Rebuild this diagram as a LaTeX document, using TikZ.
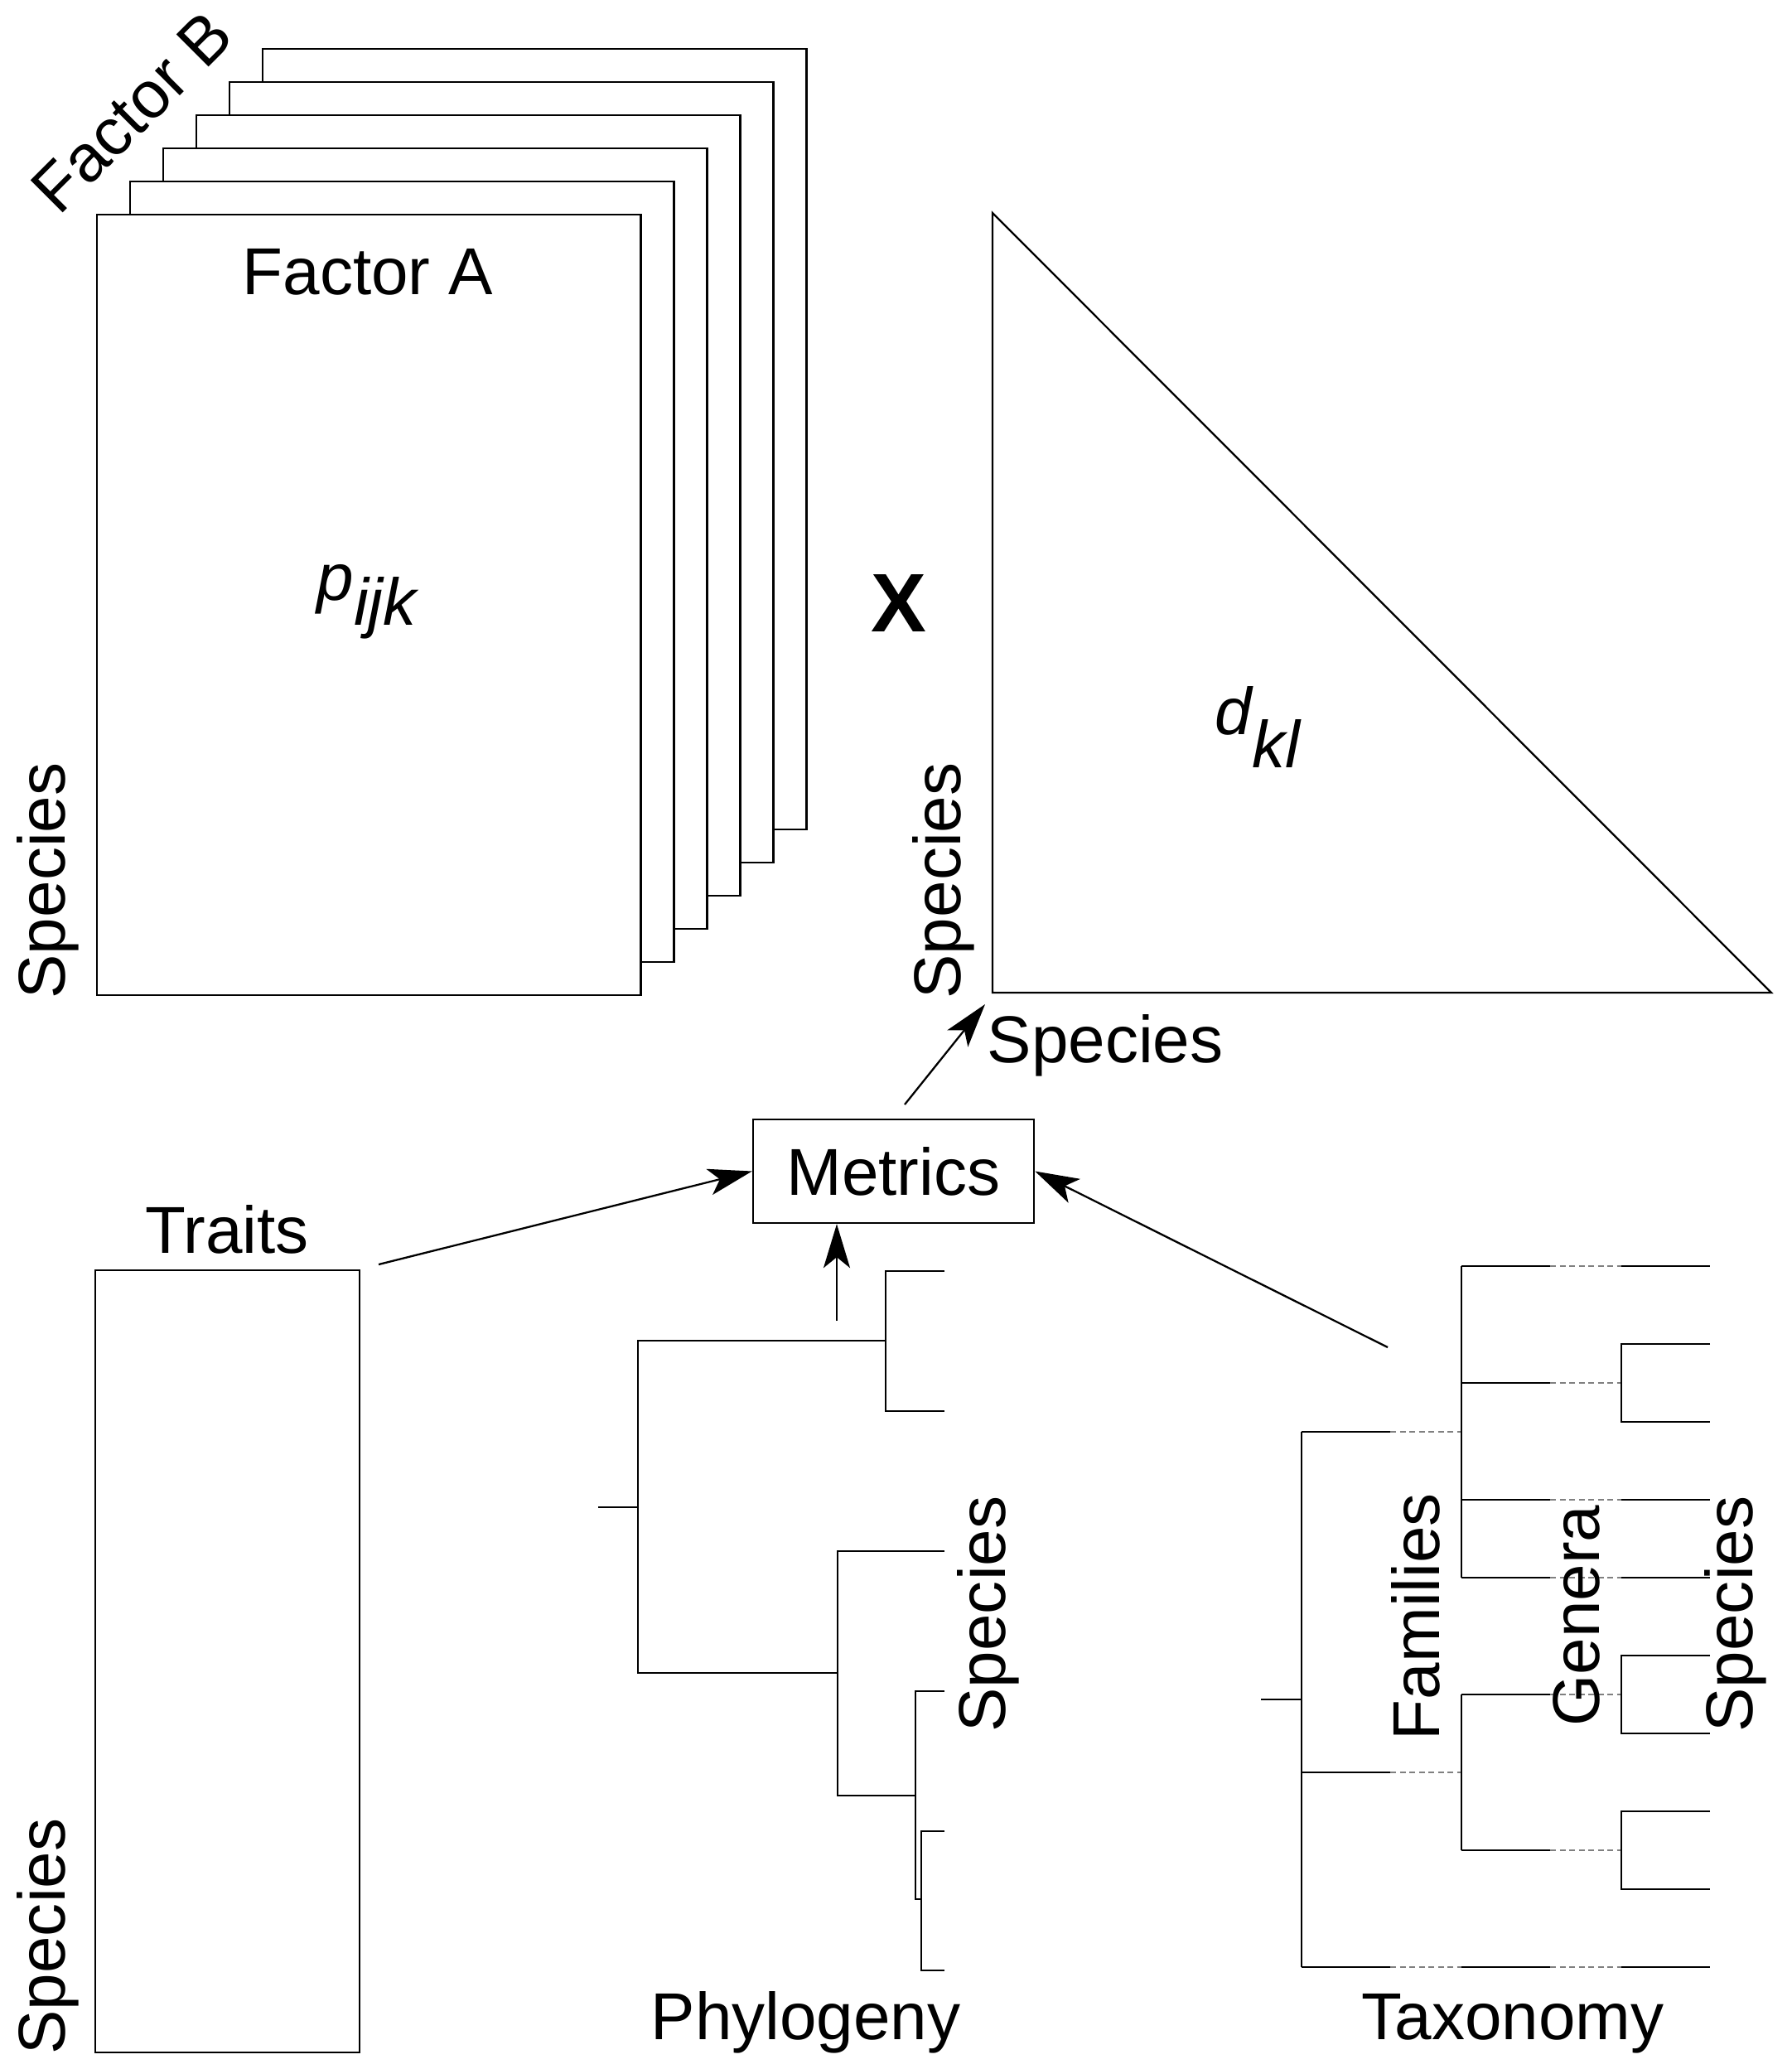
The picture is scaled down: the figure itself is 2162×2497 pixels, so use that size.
\documentclass[tikz,border=0pt]{standalone}
\usepackage{fontspec}
\setmainfont{Liberation Sans}
\usetikzlibrary{arrows.meta,calc}
\begin{document}
\begin{tikzpicture}[x=0.01cm,y=-0.01cm,
  ln/.style={line width=0.65pt, line join=miter},
  dsh/.style={line width=0.45pt, draw=gray, dash pattern=on 0.07cm off 0.045cm},
  lbl/.style={inner sep=0pt, font=\fontsize{22.76}{27}\selectfont},
  arr/.style={ln, -{Stealth[length=0.53cm,width=0.32cm,inset=0.13cm]}},
  sheet/.style={draw, ln, fill=white, inner sep=0pt, anchor=north west, minimum width=6.56cm, minimum height=9.41cm}
]
\useasboundingbox (0,0) rectangle (2162,2497);

% stacked sheets (Factor B)
\foreach \k in {5,4,3,2,1} {
  \node[sheet] (sheet\k) at ({116+40*\k},{258-40*\k}) {};
}
\node[sheet] (pmat) at (116,258) {};
\node[lbl, anchor=base] (factorA) at (444,355) {Factor A};
\node[lbl, rotate=45, anchor=base west] (factorB) at (71,262) {Factor B};
\node[lbl, anchor=base west] (pijk) at (382,724) {\itshape p\raisebox{-0.30cm}{ijk}};
\node[lbl, rotate=90] (spA) at (58,1063) {Species};

% times sign
\node[inner sep=0pt, font=\bfseries\fontsize{28.5}{30}\selectfont] (times) at (1085,728) {X};

% triangle
\coordinate (tritop) at (1198,257);
\coordinate (tricorner) at (1198,1198);
\coordinate (triright) at (2138,1198);
\draw[ln] (tritop) -- (tricorner) -- (triright) -- cycle;
\node[lbl, anchor=base west] (dkl) at (1466,886) {\itshape d\raisebox{-0.40cm}{kl}};
\node[lbl, rotate=90] (spD1) at (1139,1063) {Species};
\node[lbl, anchor=base west] (spD2) at (1191,1282) {Species};

% metrics
\node[draw, ln, lbl, minimum width=3.39cm, minimum height=1.25cm] (metrics) at (1078.5,1413.5) {Metrics};

% traits
\node[draw, ln, inner sep=0pt, anchor=north west, minimum width=3.19cm, minimum height=9.43cm] (traitsbox) at (114,1532) {};
\node[lbl, anchor=base] (traits) at (274,1512) {Traits};
\node[lbl, rotate=90] (spT) at (58,2337) {Species};

% phylogeny
\draw[ln] (722,1819) -- (770,1819);
\draw[ln] (1069,1618) -- (770,1618) -- (770,2019) -- (1011,2019);
\draw[ln] (1140,1534) -- (1069,1534) -- (1069,1703) -- (1140,1703);
\draw[ln] (1140,1872) -- (1011,1872) -- (1011,2167) -- (1105,2167);
\draw[ln] (1140,2041) -- (1105,2041) -- (1105,2292) -- (1112,2292);
\draw[ln] (1140,2210) -- (1112,2210) -- (1112,2378) -- (1140,2378);
\node[lbl, rotate=90] (spP) at (1193,1948) {Species};
\node[lbl, anchor=base west] (phylo) at (785,2461) {Phylogeny};

% taxonomy
\draw[ln] (1522,2051) -- (1571,2051);
\draw[ln] (1571,1727.75) -- (1571,2374);
\foreach \y in {1727.75,2139,2374} {
  \draw[ln] (1571,\y) -- (1678,\y);
  \draw[dsh] (1678,\y) -- (1764,\y);
}
\draw[ln] (1764,1528) -- (1764,1904);
\draw[ln] (1764,2045) -- (1764,2233);
\foreach \y in {1528,1669,1810,1904,2045,2233,2374} {
  \draw[ln] (1764,\y) -- (1871,\y);
  \draw[dsh] (1871,\y) -- (1957,\y);
}
\foreach \y in {1528,1810,1904,2374} \draw[ln] (1957,\y) -- (2064,\y);
\foreach \a/\b in {1622/1716,1998/2092,2186/2280}
  \draw[ln] (2064,\a) -- (1957,\a) -- (1957,\b) -- (2064,\b);
\node[lbl, rotate=90] (fam) at (1709,1951) {Families};
\node[lbl, rotate=90] (gen) at (1903,1950) {Genera};
\node[lbl, rotate=90] (spX) at (2095,1948) {Species};
\node[lbl, anchor=base west] (taxo) at (1643,2461) {Taxonomy};

% arrows
\coordinate (trfrom) at (457,1526);
\draw[arr] (trfrom) -- (metrics.west);
\coordinate (phyfrom) at (1010,1594);
\draw[arr] (phyfrom) -- (phyfrom |- metrics.south);
\coordinate (taxfrom) at (1675,1626);
\draw[arr] (taxfrom) -- (metrics.east);
\coordinate (mfrom) at (1092,1333);
\coordinate (mto) at (1189,1212);
\draw[arr] (mfrom) -- (mto);
\end{tikzpicture}
\end{document}
